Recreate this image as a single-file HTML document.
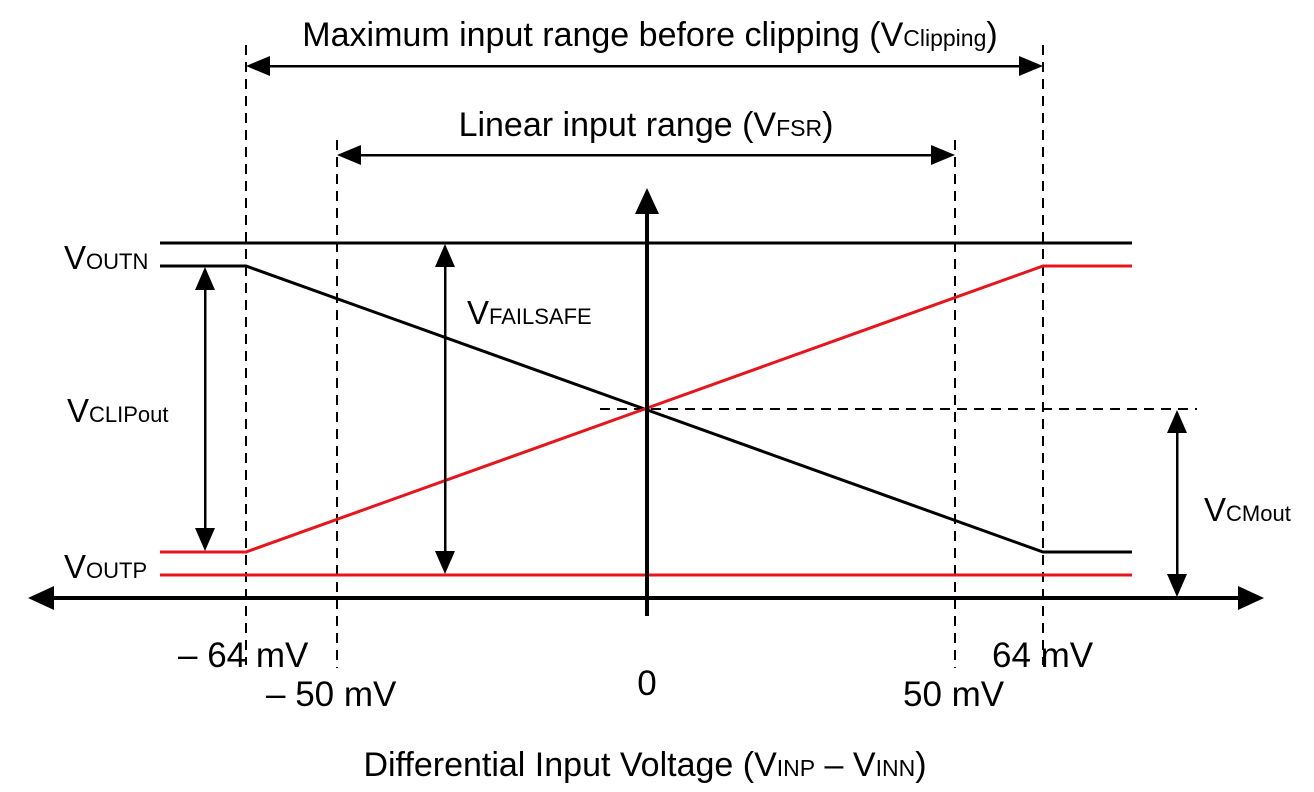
<!DOCTYPE html>
<html><head><meta charset="utf-8"><style>
html,body{margin:0;padding:0;background:#fff}
svg{display:block}
text{font-family:"Liberation Sans",Arial,sans-serif;fill:#000}
</style></head><body>
<svg width="1314" height="792" viewBox="0 0 1314 792" xmlns="http://www.w3.org/2000/svg">
<g stroke="#000" stroke-width="2" stroke-dasharray="10,7" fill="none">
<line x1="246" y1="45" x2="246" y2="665"/>
<line x1="1043" y1="45" x2="1043" y2="665"/>
<line x1="337" y1="140" x2="337" y2="668"/>
<line x1="955" y1="140" x2="955" y2="668"/>
<line x1="600" y1="409" x2="1197" y2="409"/>
</g>
<g stroke="#000" stroke-width="3" fill="none">
<line x1="160" y1="243" x2="1132" y2="243"/>
<polyline points="160,266 246,266 1043,552 1132,552"/>
</g>
<g stroke="#e8141b" stroke-width="3" fill="none">
<polyline points="160,552 246,552 1043,266 1132,266"/>
<line x1="160" y1="575" x2="1132" y2="575"/>
</g>
<g fill="#000">
<rect x="50" y="596" width="1192" height="4"/>
<path d="M28,598 L54,586 L54,610z"/>
<path d="M1264,598 L1238,586 L1238,610z"/>
<rect x="645" y="212" width="4" height="404"/>
<path d="M647,188 L635,214 L659,214z"/>
<rect x="268" y="65" width="753" height="2.5"/>
<path d="M246,66 L270,56 L270,76z"/>
<path d="M1043,66 L1019,56 L1019,76z"/>
<rect x="359" y="154" width="574" height="2.5"/>
<path d="M337,155 L361,145 L361,165z"/>
<path d="M955,155 L931,145 L931,165z"/>
<rect x="204" y="288" width="2.5" height="242"/>
<path d="M205,267 L195,290 L215,290z"/>
<path d="M205,551 L195,528 L215,528z"/>
<rect x="444" y="265" width="2.5" height="288"/>
<path d="M445,244 L435,267 L455,267z"/>
<path d="M445,574 L435,551 L455,551z"/>
<rect x="1176" y="431" width="2.5" height="145"/>
<path d="M1177,410 L1167,433 L1187,433z"/>
<path d="M1177,597 L1167,574 L1187,574z"/>
</g>
<g font-size="34">
<text x="650" y="46" text-anchor="middle">Maximum input range before clipping (V<tspan font-size="23">Clipping</tspan>)</text>
<text x="646" y="136" text-anchor="middle">Linear input range (V<tspan font-size="23">FSR</tspan>)</text>
<text x="645" y="776" text-anchor="middle">Differential Input Voltage (V<tspan font-size="23">INP</tspan> – V<tspan font-size="23">INN</tspan>)</text>
</g>
<g font-size="33">
<text x="64" y="269">V<tspan font-size="22">OUTN</tspan></text>
<text x="64" y="578">V<tspan font-size="22">OUTP</tspan></text>
<text x="67" y="422">V<tspan font-size="22">CLIPout</tspan></text>
<text x="467" y="324">V<tspan font-size="22">FAILSAFE</tspan></text>
<text x="1204" y="521">V<tspan font-size="22">CMout</tspan></text>
</g>
<g font-size="35">
<text x="178" y="667">– 64 mV</text>
<text x="266" y="706">– 50 mV</text>
<text x="647" y="695" text-anchor="middle">0</text>
<text x="903" y="706">50 mV</text>
<text x="992" y="667">64 mV</text>
</g>
</svg>
</body></html>
